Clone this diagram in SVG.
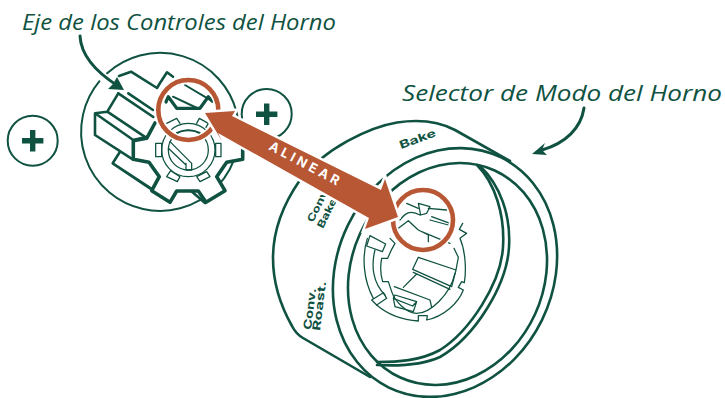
<svg xmlns="http://www.w3.org/2000/svg" width="725" height="398" viewBox="0 0 725 398">
<style>
.s{fill:none;stroke:#0f5241;stroke-linejoin:round;stroke-linecap:round}
.t1{stroke-width:3.800}
.m{stroke-width:2}
.h{stroke-width:2.600}
.cap{font-family:"Open Sans","Noto Sans",sans-serif;font-style:italic;font-size:22.500px;fill:#0f5241}
.lab{font-family:"Inter","Noto Sans",sans-serif;font-weight:700;fill:#0f5241}
.ring{fill:none;stroke:#b85733;stroke-width:4.600}
.halo{fill:none;stroke:#fff;stroke-width:8}
.plus{fill:#0f5241}
</style>
<rect width="725" height="398" fill="#fff"/>
<text class="cap" x="22" y="30" textLength="314" lengthAdjust="spacingAndGlyphs">Eje de los Controles del Horno</text>
<text class="cap" x="402" y="101" textLength="320" lengthAdjust="spacingAndGlyphs">Selector de Modo del Horno</text>

<g id="plus-left">
<circle class="s m" cx="32.7" cy="140.7" r="25"/>
<path class="plus" d="M30 130h5.400v8h8v5.400h-8v8h-5.400v-8h-8v-5.400h8z"/>
</g>
<g id="plus-right">
<circle class="s m" cx="266.700" cy="114" r="25"/>
<path class="plus" d="M264 103.500h5.400v8h8v5.400h-8v8h-5.400v-8h-8v-5.400h8z"/>
</g>

<g id="shaft">
<path class="s m" d="M107.100 73.300A79 79 0 1 1 99.500 81.200"/>
<path class="s h" d="M119 76L131 71.700L157 88L160 83L167 72.300L173 76.700"/>
<path class="s h" d="M128.300 93.300L153 110M118.300 93.300L153.300 117"/>
<path class="s h" d="M118.300 93.300L107.300 111.700L95 113.300V135L132.700 159.300M95 113.300L133.300 140L146.700 136.700M107.300 111.700L145.700 137.300"/>
<path class="s h" d="M120 151.700L112.700 163.300L150 188.300M112.700 163.300L155 191M190 190L205 203"/>
</g>
<g id="gear">
<path d="M155 123L146.700 138.300L133.300 140.700V159.300L149 162.300L159.300 176.700L151.700 190.700L170 202.300L176.700 191H198.300L206 202.300L225 190.700L216.700 176.700L226.700 162.300L242.700 159.300V140L232 138L225 110L208.300 97L200 108.300H176.700L168.300 96.700L160 100Z" fill="#fff" stroke="none"/>
<path class="s" stroke-width="3.600" d="M155 123L146.700 138.300L133.300 140.700V159.300L149 162.300L159.300 176.700L151.700 190.700L170 202.300L176.700 191H198.300L206 202.300L225 190.700L216.700 176.700L226.700 162.300L242.700 159.300V140L232 138"/>
<path class="s" stroke-width="3.200" d="M166 102L168.300 96.700L176.700 108.300H200L208.300 96.700L212 101"/>
<path class="s m" d="M185 85L213 101.700M173 96.700L197 108"/>
<g class="s t1" transform="scale(.33333)">
<circle cx="565" cy="450" r="80"/>
<circle cx="565" cy="450" r="60"/>
<path d="M467 430H485V470H467ZM647 430H663V470H647ZM512 512L540 530L532 545L500 530ZM590 530L620 515L630 530L600 545ZM500 370L530 355L540 370M590 370L598 355L625 370L618 382"/>
<path d="M530 398Q565 385 600 398M505 445L558 495M510 425L575 490M558 490V510H575V490"/>
</g>
</g>

<g id="knob">
<path class="s h" d="M370 377L303 338Q296 334 292 326C279 303 273 280 273 258C273 228 284 203 300 180C325 148 370 127 397 122.500C420 119 438 121 455 130L510 161"/>
<ellipse class="s h" cx="445" cy="272.500" rx="128" ry="108" transform="rotate(-64 445 272.500)"/>
<ellipse class="s h" cx="447.500" cy="274" rx="113.800" ry="96.300" transform="rotate(-65.500 447.500 274)"/>
<path class="s h" d="M477 165C495 183 505 215 503 247C501 283 470 331 440 350C420 361 397 362 377 362"/>
<path class="s h" d="M480 166C500 185 511 215 509 247C507 285 475 337 440 357C420 366 395 366 377 365"/>
<text class="lab" font-size="11" textLength="38" lengthAdjust="spacingAndGlyphs" transform="translate(401,149) rotate(-20)">Bake</text>
<text class="lab" font-size="10" textLength="38" lengthAdjust="spacingAndGlyphs" transform="translate(313,223) rotate(-64)">Conv.</text>
<text class="lab" font-size="10" textLength="32" lengthAdjust="spacingAndGlyphs" transform="translate(323,229) rotate(-64)">Bake</text>
<text class="lab" font-size="11" textLength="42" lengthAdjust="spacingAndGlyphs" transform="translate(311,330) rotate(-83)">Conv.</text>
<text class="lab" font-size="11" textLength="50" lengthAdjust="spacingAndGlyphs" transform="translate(320,331) rotate(-83)">Roast.</text>
<g class="s t1" transform="translate(350,170) scale(.33333)">
<path d="M60 197L107 222L97 245L50 228Z"/>
<path d="M52 205C35 260 40 330 70 385M75 240C62 290 70 340 105 375"/>
<path d="M65 390L100 368L110 385L80 405Z"/>
<path d="M120 205L135 220L125 238L113 265H95C90 290 92 315 98 335H115L125 365C135 395 170 430 200 430C240 430 300 375 315 310"/>
<path d="M80 405C115 435 160 450 205 453V437L232 437L230 450C280 440 325 400 340 360L325 352L335 335L343 338C350 295 345 240 330 205L350 190L328 178L338 160"/>
<path d="M133 350L240 390L245 412"/>
<path d="M130 385L188 408L200 395L135 375ZM130 385L135 410L190 425L200 395"/>
<path d="M205 262L188 298L305 350L318 300L205 262ZM190 307L300 358M160 352L200 312M318 300L325 262L312 235"/>
<path d="M145 175L175 152L205 180L235 195V215M150 150C165 130 180 118 210 135M170 100L205 115M205 100L240 110L230 130L212 135ZM235 115L290 120M240 150L295 165M245 140L300 160M215 185L300 220"/>
</g>
</g>

<g id="rings">
<circle class="halo" cx="188.300" cy="110" r="30"/>
<circle class="ring" cx="188.300" cy="110" r="30"/>
<circle class="halo" cx="423" cy="220" r="30"/>
<circle class="ring" cx="423" cy="220" r="30"/>
</g>

<g id="connectors">
<path class="s" stroke-width="3" d="M80 36C81 55 96 72 118 86"/>
<path fill="#0f5241" d="M124 90L108 89L113 84L117 77Z"/>
<path class="s" stroke-width="3" d="M584 108C581 128 566 143 542 150"/>
<path fill="#0f5241" d="M532 154L545 143L542 150L547 155Z"/>
<path id="alinear-arrow" fill="#b85733" stroke="#fff" stroke-width="5" paint-order="stroke" stroke-linejoin="miter" d="M205 113L235 111L232 116L381 190L385 179L398 217L365 229L369 218L218 133L222 141Z"/>
<text transform="translate(268,149) rotate(28)" font-family="Inter,'Noto Sans',sans-serif" font-weight="700" font-size="13" letter-spacing="3.500" fill="#fff">ALINEAR</text>
</g>
</svg>
